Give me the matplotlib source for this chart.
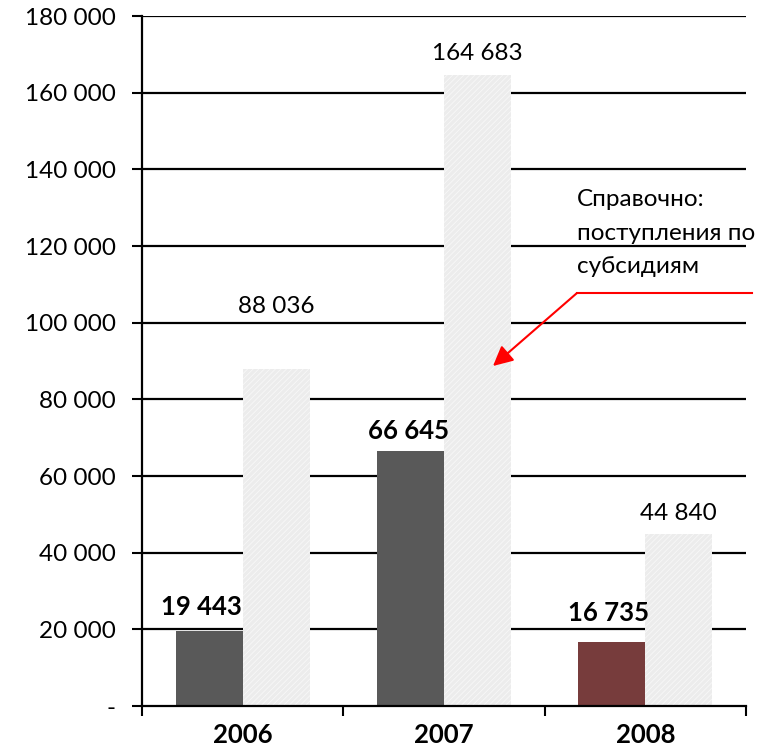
import numpy as np
import matplotlib.pyplot as plt

plt.rcParams['font.family'] = ['Lato', 'Open Sans', 'DejaVu Sans']
plt.rcParams['hatch.linewidth'] = 0.6

years = ['2006', '2007', '2008']
received = [19443, 66645, 16735]
subsidies = [88036, 164683, 44840]
received_labels = ['19 443', '66 645', '16 735']
subsidy_labels = ['88 036', '164 683', '44 840']
yticks = [0, 20000, 40000, 60000, 80000, 100000, 120000, 140000, 160000, 180000]
ytick_labels = ['-', '20 000', '40 000', '60 000', '80 000', '100 000',
                '120 000', '140 000', '160 000', '180 000']
note = 'Справочно:\nпоступления по\nсубсидиям'

fig = plt.figure(figsize=(7.64, 7.49), dpi=100)
ax = fig.add_axes([0.186, 0.0574, 0.7904, 0.9212])

x = np.arange(len(years))
width = 0.333
dark_colors = ['#595959', '#595959', '#773c3c']

# gridlines first so the light bars cover them
for v in yticks[1:]:
    ax.axhline(v, color='black', lw=1.6, zorder=0)

b1 = ax.bar(x - width / 2, received, width, color=dark_colors, zorder=2)
b2 = ax.bar(x + width / 2, subsidies, width, color='#ececec', hatch='//////',
            edgecolor='#f8f8f8', linewidth=0, zorder=2)

# value labels (offsets in pixels)
dark_off = [(-8, 24), (-2, 20), (-3, 29)]
for i in range(3):
    ax.annotate(received_labels[i], (x[i] - width / 2, received[i]),
                xytext=dark_off[i], textcoords='offset pixels',
                ha='center', va='center', fontsize=18.5, fontweight='bold')
light_off = [(0, 62), (0, 21), (0, 21)]
for i in range(3):
    ax.annotate(subsidy_labels[i], (x[i] + width / 2, subsidies[i]),
                xytext=light_off[i], textcoords='offset pixels',
                ha='center', va='center', fontsize=17.5)

ax.set_xlim(-0.5, 2.5)
ax.set_ylim(0, 180000)
ax.set_yticks(yticks, ytick_labels, fontsize=17.5)
ax.set_xticks(x, years, fontsize=18.5, fontweight='bold')
ax.set_xticks([-0.5, 0.5, 1.5, 2.5], minor=True)
ax.tick_params(axis='x', which='major', length=0, pad=12)
ax.tick_params(axis='x', which='minor', length=7, width=1.5, direction='out')
ax.tick_params(axis='y', length=7, width=1.5, direction='out', pad=12)

for s in ['top', 'right']:
    ax.spines[s].set_visible(False)
ax.spines['left'].set_linewidth(1.6)
ax.spines['bottom'].set_linewidth(1.6)

# note with red arrow
fig.text(577 / 764, 1 - 233 / 749, note, fontsize=17.5, va='center', ha='left',
         linespacing=1.75)
fig.add_artist(plt.Line2D([577 / 764, 752 / 764], [1 - 293 / 749, 1 - 293 / 749],
                          color='red', lw=1.5, transform=fig.transFigure))
ax.annotate('', xy=(493 / 764, 1 - 366 / 749), xycoords='figure fraction',
            xytext=(577 / 764, 1 - 293 / 749), textcoords='figure fraction',
            arrowprops=dict(arrowstyle='-|>', color='red', lw=1.5,
                            mutation_scale=30, shrinkA=0, shrinkB=0))

fig.savefig('out.png', dpi=100)
